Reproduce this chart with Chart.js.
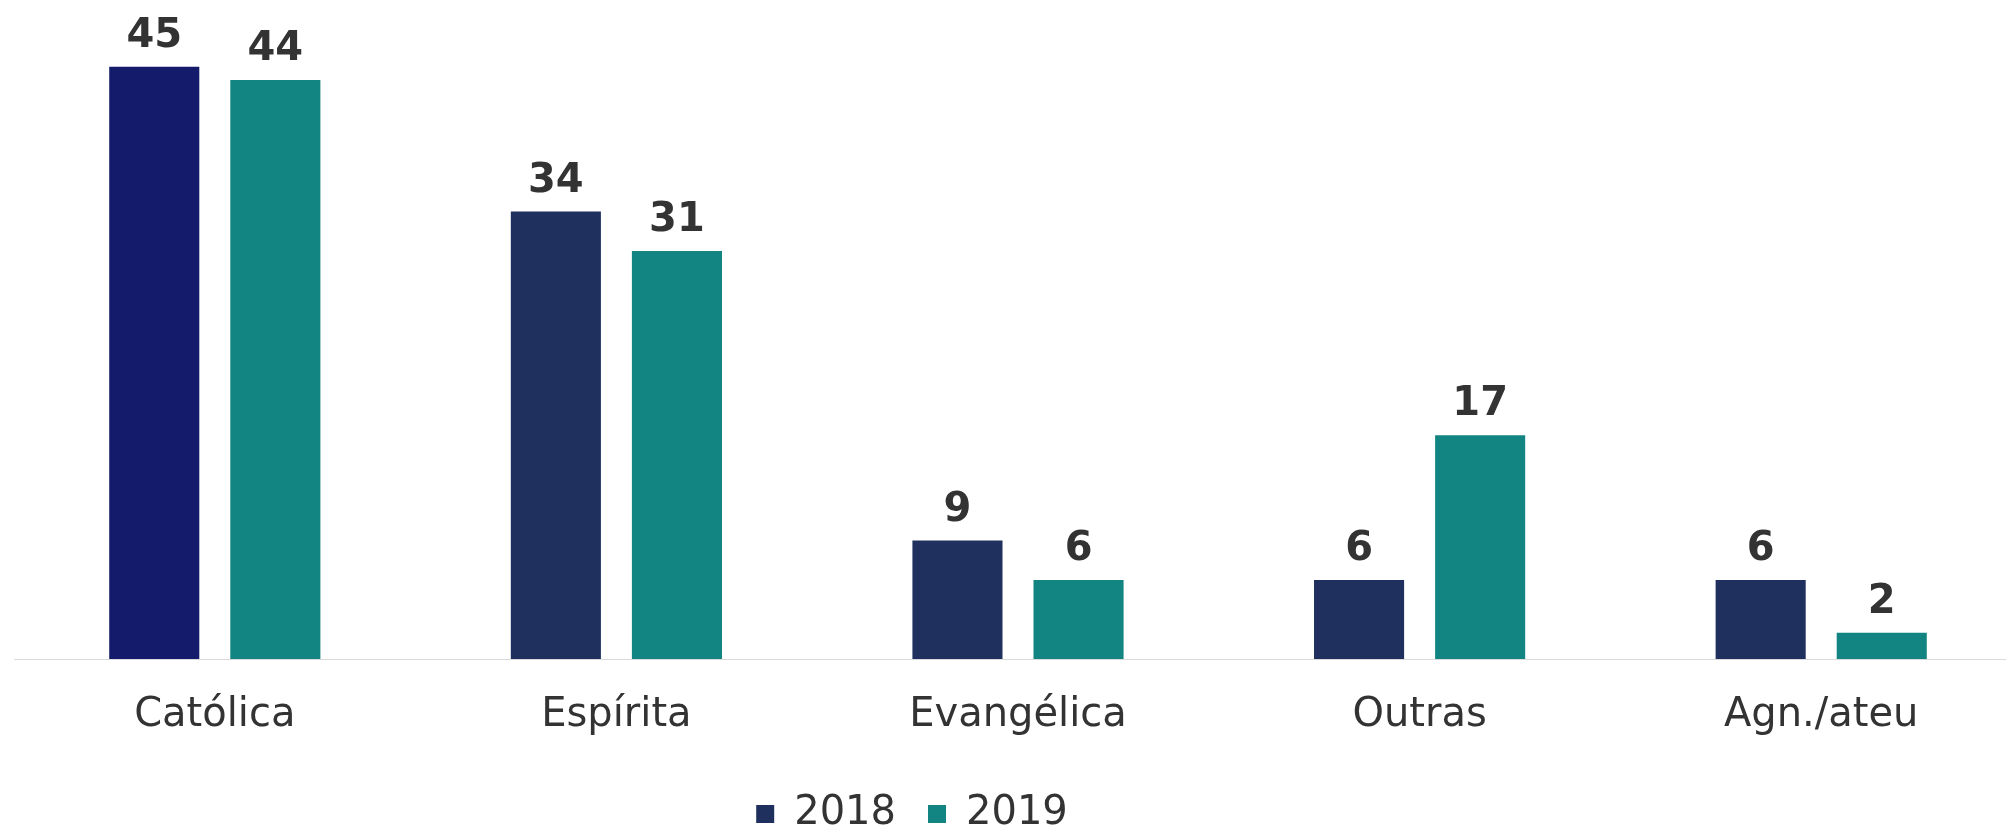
<!DOCTYPE html>
<html>
<head>
<meta charset="utf-8">
<script src="https://cdn.jsdelivr.net/npm/chart.js@4"></script>
<style>
    html, body { margin: 0; padding: 0; background: #fff; overflow: hidden; width: 2006px; height: 830px; }
    #box { position: relative; width: 2022px; height: 830px; }
</style>
</head>
<body>
<div id="box"><canvas id="myBarChart" width="2022" height="830"></canvas></div>
<script>
// chart data
const categories = ['Católica', 'Espírita', 'Evangélica', 'Outras', 'Agn./ateu'];
const seriesNames = ['2018', '2019'];
const values2018 = [45, 34, 9, 6, 6];
const values2019 = [44, 31, 6, 17, 2];

const navy = '#20305e';
const navyFirst = '#141b6b';
const teal = '#128482';

Chart.defaults.font.family = "'DejaVu Sans', Verdana, sans-serif";
Chart.defaults.color = '#333333';

// value labels above the bars
const valueLabels = {
    id: 'valueLabels',
    afterDatasetsDraw(chart) {
        const ctx = chart.ctx;
        ctx.save();
        ctx.font = "bold 40px 'DejaVu Sans', Verdana, sans-serif";
        ctx.fillStyle = '#333333';
        ctx.textAlign = 'center';
        ctx.textBaseline = 'alphabetic';
        chart.data.datasets.forEach((ds, i) => {
            chart.getDatasetMeta(i).data.forEach((bar, j) => {
                ctx.fillText(String(ds.data[j]), bar.x, bar.y - 20);
            });
        });
        ctx.restore();
    }
};

// move the legend to where it sits in the picture
const legendSpot = {
    id: 'legendSpot',
    afterLayout(chart) {
        const lg = chart.legend;
        if (!lg) return;
        const dx = 912 - (lg.left + lg.right) / 2;
        const dy = 762 - lg.top;
        lg.left += dx; lg.right += dx;
        lg.top += dy; lg.bottom += dy;
    }
};

const ctx = document.getElementById('myBarChart').getContext('2d');
const myBarChart = new Chart(ctx, {
    type: 'bar',
    data: {
        labels: categories,
        datasets: [{
            label: seriesNames[0],
            data: values2018,
            backgroundColor: values2018.map((v, i) => i === 0 ? navyFirst : navy),
            categoryPercentage: 0.603,
            barPercentage: 0.744
        }, {
            label: seriesNames[1],
            data: values2019,
            backgroundColor: teal,
            categoryPercentage: 0.603,
            barPercentage: 0.744
        }]
    },
    options: {
        responsive: false,
        animation: false,
        layout: { padding: { left: 14, right: 0, top: 1, bottom: -25 } },
        plugins: {
            tooltip: { enabled: false },
            legend: {
                position: 'bottom',
                labels: {
                    boxWidth: 18,
                    boxHeight: 18,
                    padding: 32,
                    color: '#333333',
                    font: { size: 40 },
                    generateLabels(chart) {
                        return chart.data.datasets.map((ds, i) => ({
                            text: ds.label,
                            fillStyle: i === 0 ? navy : teal,
                            strokeStyle: i === 0 ? navy : teal,
                            fontColor: '#333333',
                            lineWidth: 0,
                            datasetIndex: i
                        }));
                    }
                }
            }
        },
        scales: {
            x: {
                grid: { display: false, drawTicks: false },
                border: { color: '#d9d9d9', width: 1 },
                ticks: { padding: 33, color: '#333333', font: { size: 40 } }
            },
            y: {
                display: false,
                min: 0,
                max: 50
            }
        }
    },
    plugins: [valueLabels, legendSpot]
});
</script>
</body>
</html>
